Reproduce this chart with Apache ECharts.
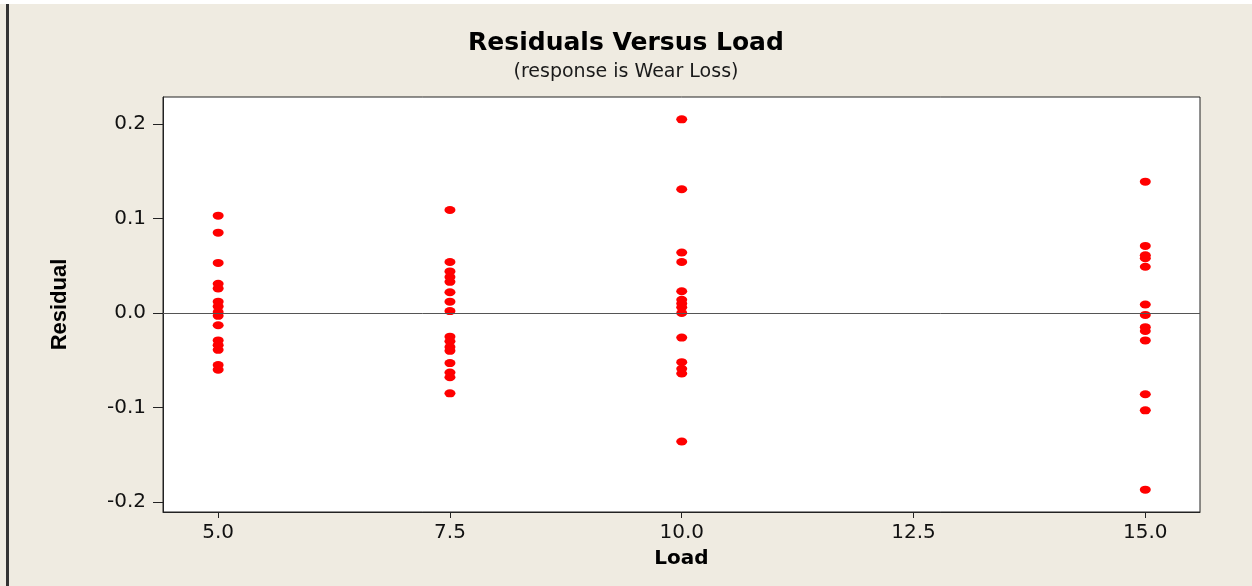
<!DOCTYPE html>
<html>
<head>
<meta charset="utf-8">
<script src="https://cdn.jsdelivr.net/npm/echarts@6/dist/echarts.min.js"></script>
<style>
  html, body { margin: 0; padding: 0; background: #efebe1; }
  #chartResid { width: 1252px; height: 586px; }
</style>
</head>
<body>
<div id="chartResid"></div>
<script>
// residuals, one array per load level
var loadLevels = [5, 7.5, 10, 15];
var res5 = [0.103, 0.085, 0.053, 0.031, 0.026, 0.012, 0.007, 0.001, -0.003, -0.013, -0.029, -0.034, -0.039, -0.055, -0.060];
var res75 = [0.109, 0.054, 0.044, 0.038, 0.033, 0.022, 0.012, 0.002, -0.025, -0.030, -0.036, -0.040, -0.053, -0.063, -0.068, -0.085];
var res10 = [0.205, 0.131, 0.064, 0.054, 0.023, 0.014, 0.010, 0.006, 0.000, -0.026, -0.052, -0.059, -0.064, -0.136];
var res15 = [0.139, 0.071, 0.061, 0.058, 0.049, 0.009, -0.002, -0.015, -0.019, -0.029, -0.086, -0.103, -0.187];
var xTicks = [5, 7.5, 10, 12.5, 15];
var yTicks = [-0.2, -0.1, 0, 0.1, 0.2];

var allRes = [res5, res75, res10, res15];
var points = [];
allRes.forEach(function(arr, i) {
  arr.forEach(function(v) {
    points.push([loadLevels[i], v]);
  });
});

var myChart = echarts.init(document.getElementById('chartResid'));
var font = 'DejaVu Sans';

var option = {
  backgroundColor: '#efebe1',
  animation: false,
  title: {
    text: 'Residuals Versus Load',
    subtext: '(response is Wear Loss)',
    left: 'center',
    top: 25,
    itemGap: 6,
    textStyle: { fontFamily: font, fontSize: 25, fontWeight: 'bold', color: '#000', lineHeight: 26 },
    subtextStyle: { fontFamily: font, fontSize: 19, color: '#1a1a1a', lineHeight: 20 }
  },
  graphic: [
    { type: 'rect', left: 0, top: 0, shape: { width: 1252, height: 4 }, style: { fill: '#ffffff' } },
    { type: 'rect', left: 6, top: 4, shape: { width: 3, height: 582 }, style: { fill: '#333333' } }
  ],
  grid: {
    left: 163, top: 97, right: 52, bottom: 74,
    show: true,
    backgroundColor: '#ffffff',
    borderColor: '#222',
    borderWidth: 1
  },
  xAxis: {
    type: 'value',
    min: 4.405, max: 15.59,
    name: 'Load',
    nameLocation: 'middle',
    nameGap: 37,
    nameTextStyle: { fontFamily: font, fontSize: 20, fontWeight: 'bold', color: '#000' },
    axisLine: { show: true, onZero: false, lineStyle: { color: '#222', width: 1 } },
    axisTick: { show: true, length: 6, customValues: xTicks, lineStyle: { color: '#222' } },
    axisLabel: {
      customValues: xTicks,
      margin: 11,
      fontFamily: font, fontSize: 20, color: '#111',
      formatter: function(v) { return v.toFixed(1); }
    },
    splitLine: { show: false }
  },
  yAxis: {
    type: 'value',
    min: -0.2106, max: 0.2286,
    name: 'Residual',
    nameLocation: 'middle',
    nameGap: 92,
    nameTextStyle: { fontFamily: 'Liberation Sans', fontSize: 22, fontWeight: 'bold', color: '#000' },
    axisLine: { show: true, onZero: false, lineStyle: { color: '#222', width: 1 } },
    axisTick: { show: true, length: 10, customValues: yTicks, lineStyle: { color: '#222' } },
    axisLabel: {
      customValues: yTicks,
      margin: 17,
      fontFamily: font, fontSize: 20, color: '#111',
      formatter: function(v) { return v.toFixed(1); }
    },
    splitLine: { show: false }
  },
  series: [
    {
      type: 'scatter',
      data: points,
      symbol: 'circle',
      symbolSize: [11, 8],
      itemStyle: { color: '#ff0000', opacity: 1 },
      markLine: {
        silent: true,
        symbol: ['none', 'none'],
        label: { show: false },
        lineStyle: { color: '#555', width: 1, type: 'solid' },
        data: [{ yAxis: 0 }]
      }
    }
  ]
};

myChart.setOption(option);
</script>
</body>
</html>
